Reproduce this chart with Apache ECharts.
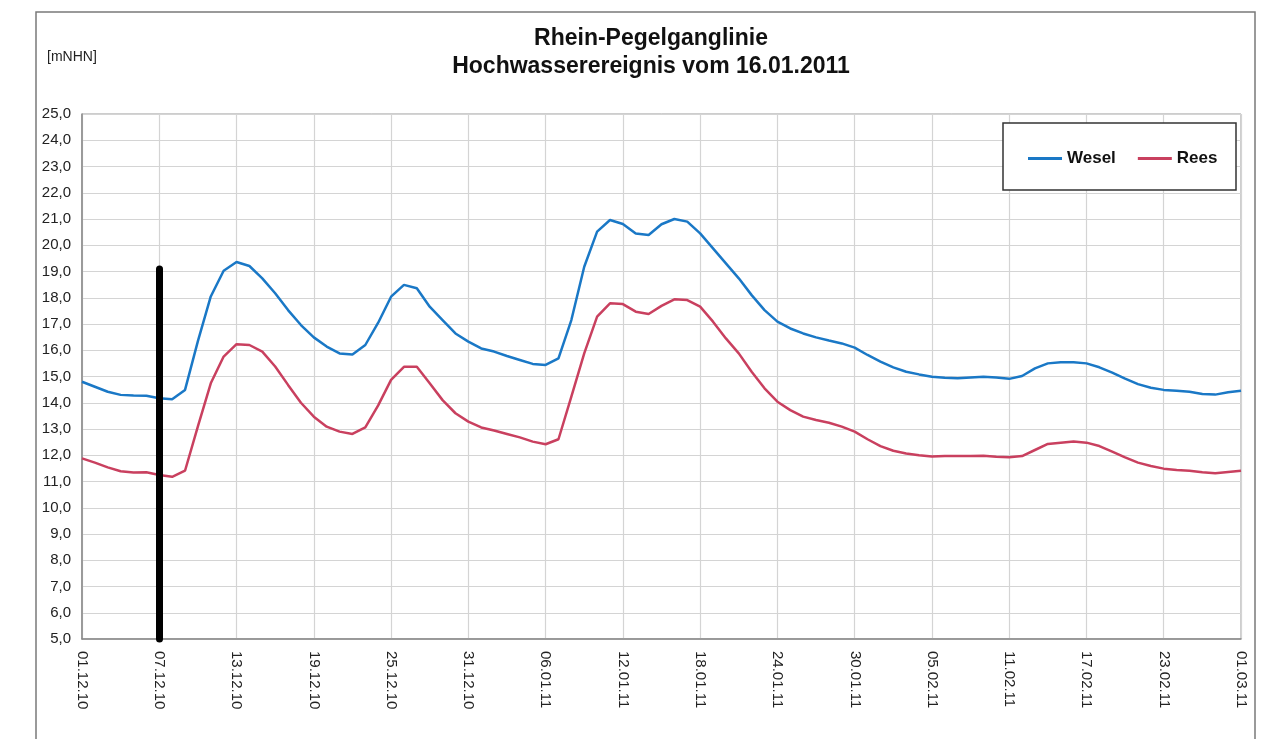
<!DOCTYPE html>
<html>
<head>
<meta charset="utf-8">
<script src="https://cdn.jsdelivr.net/npm/echarts@6/dist/echarts.min.js"></script>
<style>
html,body{margin:0;padding:0;background:#fff;}
#chart{width:1273px;height:739px;}
</style>
</head>
<body>
<div id="chart"></div>
<script>
// Dates: daily from 01.12.10 to 01.03.11
const startDate = [2010, 11, 1];
const dayCount = 91;
const categories = [];
for (let i = 0; i < dayCount; i++) {
  const d = new Date(Date.UTC(startDate[0], startDate[1], startDate[2] + i));
  const dd = String(d.getUTCDate()).padStart(2, '0');
  const mm = String(d.getUTCMonth() + 1).padStart(2, '0');
  const yy = String(d.getUTCFullYear()).slice(2);
  categories.push(dd + '.' + mm + '.' + yy);
}

const wesel = [
  14.80, 14.61, 14.42, 14.30, 14.28, 14.27, 14.17, 14.13, 14.49, 16.35,
  18.05, 19.03, 19.36, 19.21, 18.74, 18.17, 17.53, 16.96, 16.49, 16.14,
  15.88, 15.84, 16.20, 17.05, 18.04, 18.49, 18.36, 17.66, 17.15, 16.64,
  16.33, 16.07, 15.95, 15.78, 15.63, 15.48, 15.44, 15.69, 17.15, 19.18,
  20.52, 20.96, 20.81, 20.45, 20.39, 20.80, 21.00, 20.90, 20.45, 19.88,
  19.31, 18.74, 18.10, 17.53, 17.09, 16.83, 16.64, 16.49, 16.37, 16.26,
  16.10, 15.82, 15.57, 15.35, 15.18, 15.08, 14.99, 14.95, 14.93, 14.96,
  14.99, 14.96, 14.91, 15.02, 15.31, 15.50, 15.54, 15.54, 15.50, 15.35,
  15.15, 14.92, 14.71, 14.57, 14.49, 14.46, 14.42, 14.33, 14.31, 14.40,
  14.46
];

const rees = [
  11.88, 11.72, 11.54, 11.39, 11.34, 11.35, 11.25, 11.18, 11.41, 13.10,
  14.74, 15.76, 16.23, 16.20, 15.95, 15.38, 14.68, 14.00, 13.47, 13.09,
  12.90, 12.81, 13.06, 13.90, 14.87, 15.37, 15.37, 14.74, 14.10, 13.60,
  13.28, 13.06, 12.94, 12.81, 12.68, 12.52, 12.42, 12.61, 14.23, 15.88,
  17.28, 17.79, 17.76, 17.47, 17.38, 17.69, 17.94, 17.91, 17.66, 17.09,
  16.45, 15.88, 15.18, 14.55, 14.04, 13.72, 13.47, 13.34, 13.24, 13.09,
  12.90, 12.61, 12.35, 12.17, 12.07, 12.00, 11.95, 11.97, 11.97, 11.97,
  11.98, 11.94, 11.92, 11.97, 12.20, 12.43, 12.48, 12.52, 12.48, 12.35,
  12.14, 11.92, 11.72, 11.59, 11.49, 11.44, 11.41, 11.35, 11.31, 11.36,
  11.41
];

const seriesNames = ['Wesel', 'Rees'];
const titleLines = ['Rhein-Pegelganglinie', 'Hochwasserereignis vom 16.01.2011'];
const unitLabel = '[mNHN]';
const yMin = 5, yMax = 25, yStep = 1;
const markerDate = '07.12.10';
const markerRange = [5.0, 19.1];

const chart = echarts.init(document.getElementById('chart'), null, {renderer: 'canvas'});
const FONT = '"Liberation Sans", Arial, sans-serif';

chart.setOption({
  backgroundColor: '#ffffff',
  animation: false,
  title: {
    text: titleLines.join('\n'),
    left: 646, top: 20, textAlign: 'center',
    textStyle: {fontFamily: FONT, fontSize: 23, fontWeight: 'bold', color: '#111', lineHeight: 28}
  },
  graphic: [
    {type: 'rect', shape: {x: 36, y: 12, width: 1219, height: 760}, style: {fill: 'none', stroke: '#7a7a7a', lineWidth: 1.5}, z: -1},
    {type: 'text', left: 47, top: 50, style: {text: unitLabel, font: '14px ' + FONT, fill: '#222'}},
    {type: 'rect', shape: {x: 1003, y: 123, width: 233, height: 67}, style: {fill: '#fff', stroke: '#333', lineWidth: 1.5}, z: 50}
  ],
  legend: {
    data: seriesNames,
    left: 1023, top: 145,
    itemWidth: 34, itemHeight: 3, itemGap: 22,
    icon: 'rect',
    z: 60,
    textStyle: {fontFamily: FONT, fontSize: 17, fontWeight: 'bold', color: '#111'}
  },
  grid: {left: 82, top: 114, right: 32, bottom: 100, show: true, borderColor: '#9a9a9a', borderWidth: 1, containLabel: false},
  xAxis: {
    type: 'category',
    data: categories,
    boundaryGap: false,
    axisLine: {lineStyle: {color: '#888', width: 1.5}},
    axisTick: {show: false},
    axisLabel: {interval: 5, rotate: -90, margin: 12, fontFamily: FONT, fontSize: 15, color: '#222'},
    splitLine: {show: true, interval: 5, lineStyle: {color: '#d4d4d4', width: 1.2}}
  },
  yAxis: {
    type: 'value',
    min: yMin, max: yMax, interval: yStep,
    axisLine: {show: true, lineStyle: {color: '#888', width: 1.5}},
    axisTick: {show: false},
    axisLabel: {margin: 11, fontFamily: FONT, fontSize: 15, color: '#222',
      formatter: v => v.toFixed(1).replace('.', ',')},
    splitLine: {lineStyle: {color: '#d4d4d4', width: 1.2}}
  },
  series: [
    {
      name: seriesNames[0], type: 'line', data: wesel,
      showSymbol: false, symbol: 'none',
      lineStyle: {color: '#1a78c6', width: 2.5},
      itemStyle: {color: '#1a78c6'},
      z: 3
    },
    {
      name: seriesNames[1], type: 'line', data: rees,
      showSymbol: false, symbol: 'none',
      lineStyle: {color: '#c9405f', width: 2.5},
      itemStyle: {color: '#c9405f'},
      z: 3,
      markLine: {
        silent: true,
        symbol: ['none', 'none'],
        label: {show: false},
        lineStyle: {color: '#000', width: 7, type: 'solid', cap: 'round'},
        data: [[{coord: [markerDate, markerRange[0]]}, {coord: [markerDate, markerRange[1]]}]],
        z: 10
      }
    }
  ]
});
</script>
</body>
</html>
